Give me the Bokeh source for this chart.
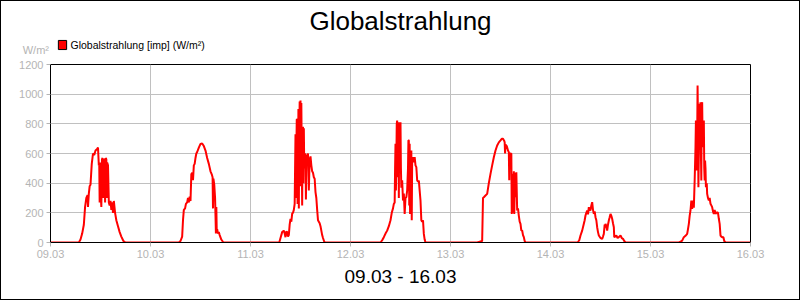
from bokeh.plotting import figure
from bokeh.layouts import column
from bokeh.models import Range1d, FixedTicker, Label, Title
from bokeh.embed import file_html
from bokeh.resources import INLINE

# ---- data: hour of day and irradiance (W/m²) ----
day_labels = ["09.03", "10.03", "11.03", "12.03", "13.03", "14.03", "15.03", "16.03"]
y_ticks = [0, 200, 400, 600, 800, 1000, 1200]
series_name = "Globalstrahlung [imp] (W/m²)"

d1_h = [0, 6.8, 7.2, 7.6, 8.0, 8.3, 8.6, 8.9, 9.0, 9.2, 9.4, 9.6, 9.9, 10.2, 10.5, 10.8, 11.2, 11.4, 11.6, 11.7, 11.8, 11.9, 12.0, 12.1, 12.2, 12.35, 12.5, 12.6, 12.7, 12.85, 13.0, 13.1, 13.25, 13.4, 13.5, 13.6, 13.8, 14.0, 14.2, 14.4, 14.6, 14.8, 15.0, 15.2, 15.5, 15.8, 16.2, 16.6, 17.0, 17.5, 18.0, 24]
d1_v = [0, 0, 20, 60, 120, 240, 300, 320, 240, 330, 380, 390, 530, 600, 590, 620, 630, 640, 520, 530, 270, 520, 540, 300, 240, 560, 570, 330, 300, 560, 560, 270, 570, 560, 300, 540, 520, 270, 250, 280, 220, 270, 200, 280, 200, 150, 110, 70, 40, 10, 0, 0]

d2_h = [0, 6.8, 7.2, 7.6, 7.8, 8.0, 8.3, 8.5, 8.8, 9.0, 9.2, 9.4, 9.6, 9.8, 10.0, 10.2, 10.4, 10.6, 10.8, 11.0, 11.2, 11.6, 12.0, 12.4, 12.8, 13.2, 13.6, 14.0, 14.4, 14.7, 14.9, 15.0, 15.1, 15.3, 15.5, 15.6, 15.7, 15.8, 15.9, 16.0, 16.2, 16.4, 16.6, 17.0, 17.5, 24]
d2_v = [0, 0, 10, 40, 150, 220, 230, 260, 270, 300, 270, 310, 280, 460, 470, 420, 520, 530, 570, 600, 610, 640, 665, 668, 650, 620, 570, 530, 480, 460, 440, 230, 430, 390, 300, 180, 60, 240, 70, 90, 60, 70, 50, 20, 0, 0]

d3_h = [0, 6.9, 7.3, 7.6, 8.0, 8.2, 8.4, 8.6, 8.8, 9.0, 9.2, 9.4, 9.6, 9.8, 10.0, 10.2, 10.4, 10.6, 10.7, 10.8, 10.9, 11.0, 11.1, 11.2, 11.3, 11.4, 11.5, 11.6, 11.7, 11.8, 11.9, 12.0, 12.1, 12.2, 12.3, 12.4, 12.5, 12.6, 12.7, 12.8, 12.9, 13.0, 13.1, 13.2, 13.3, 13.4, 13.6, 13.8, 14.0, 14.2, 14.4, 14.6, 14.8, 15.0, 15.2, 15.4, 15.6, 15.8, 16.0, 16.2, 16.4, 16.6, 16.8, 17.0, 17.2, 17.4, 17.7, 18.0, 24]
d3_v = [0, 0, 40, 70, 80, 60, 36, 75, 70, 40, 50, 120, 160, 140, 195, 200, 220, 260, 500, 730, 300, 600, 830, 830, 260, 500, 900, 230, 700, 950, 550, 957, 380, 940, 600, 250, 700, 780, 400, 770, 500, 560, 600, 590, 290, 550, 580, 600, 350, 560, 580, 520, 480, 470, 440, 430, 340, 300, 220, 150, 140, 130, 110, 80, 50, 30, 5, 0, 0]

d4_h = [0, 7.2, 7.6, 8.0, 8.4, 8.8, 9.2, 9.6, 9.9, 10.2, 10.4, 10.6, 10.7, 10.8, 10.9, 11.0, 11.1, 11.2, 11.3, 11.4, 11.5, 11.6, 11.7, 11.8, 12.0, 12.1, 12.2, 12.4, 12.6, 12.8, 13.0, 13.2, 13.4, 13.6, 13.8, 13.9, 14.0, 14.1, 14.2, 14.3, 14.5, 14.6, 14.7, 14.8, 15.0, 15.2, 15.4, 15.6, 15.8, 16.0, 16.2, 16.4, 16.6, 16.8, 17.0, 17.2, 17.4, 17.6, 17.8, 18.0, 24]
d4_v = [0, 0, 15, 36, 60, 80, 110, 150, 200, 230, 260, 270, 500, 665, 350, 550, 800, 822, 440, 600, 810, 300, 811, 700, 811, 500, 370, 420, 283, 330, 193, 300, 306, 350, 500, 690, 688, 250, 665, 193, 600, 620, 150, 560, 575, 540, 575, 520, 508, 420, 410, 418, 350, 283, 150, 140, 150, 58, 20, 0, 0]

d5_h = [0, 6.4, 7.0, 7.6, 7.8, 8.0, 8.4, 8.8, 9.2, 9.6, 10.0, 10.4, 10.8, 11.2, 11.6, 12.0, 12.3, 12.6, 12.9, 13.0, 13.1, 13.2, 13.5, 13.8, 14.0, 14.1, 14.2, 14.4, 14.6, 14.7, 14.8, 14.9, 15.0, 15.1, 15.2, 15.3, 15.5, 15.6, 15.8, 16.0, 16.2, 16.4, 16.6, 16.8, 17.0, 17.2, 17.4, 17.6, 17.8, 18.0, 24]
d5_v = [0, 0, 5, 10, 300, 305, 317, 328, 400, 463, 520, 575, 620, 654, 675, 688, 699, 699, 685, 676, 600, 660, 650, 620, 609, 420, 600, 598, 600, 193, 250, 463, 200, 350, 480, 193, 470, 305, 474, 216, 230, 180, 140, 126, 80, 81, 50, 36, 10, 0, 0]

d6_h = [0, 6.5, 6.9, 7.2, 7.6, 8.0, 8.2, 8.4, 8.6, 8.8, 9.0, 9.2, 9.4, 9.6, 9.8, 10.0, 10.2, 10.4, 10.6, 10.8, 11.0, 11.2, 11.4, 11.6, 12.0, 12.4, 12.6, 12.8, 13.0, 13.1, 13.2, 13.4, 13.6, 13.8, 14.0, 14.2, 14.4, 14.6, 14.8, 15.0, 15.2, 15.3, 15.5, 15.8, 16.1, 16.4, 16.8, 17.1, 17.4, 17.7, 18.0, 24]
d6_v = [0, 0, 15, 47, 80, 126, 150, 182, 200, 216, 190, 238, 220, 216, 250, 272, 220, 193, 210, 171, 150, 103, 70, 47, 30, 25, 40, 58, 120, 100, 126, 110, 81, 120, 148, 170, 193, 180, 160, 130, 103, 36, 40, 47, 30, 36, 47, 30, 25, 10, 0, 0]

d7_h = [0, 6.8, 7.2, 7.6, 8.0, 8.4, 8.8, 9.0, 9.2, 9.4, 9.6, 9.8, 9.9, 10.0, 10.2, 10.4, 10.6, 10.8, 10.9, 11.0, 11.1, 11.2, 11.3, 11.4, 11.5, 11.6, 11.7, 11.8, 11.9, 12.0, 12.1, 12.2, 12.3, 12.4, 12.5, 12.6, 12.7, 12.8, 12.9, 13.0, 13.1, 13.2, 13.3, 13.5, 13.6, 13.8, 14.0, 14.2, 14.4, 14.6, 14.8, 15.0, 15.2, 15.4, 15.6, 15.8, 16.0, 16.2, 16.4, 16.6, 16.8, 17.0, 17.2, 17.5, 17.7, 18.0, 24]
d7_v = [0, 0, 5, 13, 36, 45, 58, 90, 126, 180, 216, 283, 240, 227, 283, 235, 418, 643, 822, 600, 485, 700, 1058, 800, 373, 600, 935, 700, 643, 946, 600, 418, 900, 946, 700, 643, 800, 822, 500, 418, 553, 500, 373, 400, 328, 300, 283, 300, 261, 250, 238, 210, 193, 220, 193, 200, 204, 200, 160, 126, 47, 40, 36, 35, 10, 0, 0]

days_h = [d1_h, d2_h, d3_h, d4_h, d5_h, d6_h, d7_h]
days_v = [d1_v, d2_v, d3_v, d4_v, d5_v, d6_v, d7_v]

xs, ys = [], []
for i, (hh, vv) in enumerate(zip(days_h, days_v)):
    for h, v in zip(hh, vv):
        xs.append(i + h / 24.0)
        ys.append(v)

FONT = "Liberation Sans"
GRAY = "#b4b4b4"
W = 798
TOP_H = 54

# ---- header strip: title, unit, legend (pixel coordinates of the strip) ----
top = figure(width=W, height=TOP_H, output_backend="svg", toolbar_location=None,
             x_range=Range1d(0, W), y_range=Range1d(0, TOP_H), min_border=0)
if "frame_align" in top.properties():
    top.frame_align = False
top.axis.visible = False
top.grid.visible = False
top.outline_line_color = None
top.border_fill_color = "white"

top.add_layout(Label(x=W / 2, y=35, text="Globalstrahlung", text_font=FONT,
                     text_font_size="26px", text_align="center", text_baseline="middle",
                     text_color="black"))
top.add_layout(Label(x=47.5, y=6, text="W/m²", text_font=FONT, text_font_size="11px",
                     text_align="right", text_baseline="middle", text_color=GRAY))
# legend: swatch + series name
top.add_layout(Label(x=61, y=10.5, text=" ", text_font=FONT, text_font_size="1px",
                     text_align="center", text_baseline="middle",
                     background_fill_color="#ff0000", border_line_color="black",
                     border_line_width=1, padding=4))
top.add_layout(Label(x=69, y=11, text=series_name, text_font=FONT, text_font_size="10.5px",
                     text_align="left", text_baseline="middle", text_color="black"))

# ---- main chart ----
p = figure(width=W, height=300 - 2 - TOP_H, output_backend="svg", toolbar_location=None,
           x_range=Range1d(0, 7), y_range=Range1d(0, 1200),
           min_border_left=49, min_border_right=49, min_border_top=9, min_border_bottom=57)
p.outline_line_color = "black"
p.outline_line_width = 1
p.background_fill_color = "white"
p.border_fill_color = "white"

p.line(xs, ys, line_color="#ff0000", line_width=2)

for ax in (p.xaxis[0], p.yaxis[0]):
    ax.axis_line_color = "black"
    ax.major_tick_line_color = GRAY
    ax.major_tick_in = 0
    ax.major_tick_out = 4
    ax.minor_tick_line_color = None
    ax.major_label_text_color = GRAY
    ax.major_label_text_font = FONT
    ax.major_label_text_font_size = "11px"
p.xaxis[0].ticker = FixedTicker(ticks=list(range(len(day_labels))))
p.xaxis[0].major_label_overrides = {i: s for i, s in enumerate(day_labels)}
p.yaxis[0].ticker = FixedTicker(ticks=y_ticks)
p.xaxis[0].major_label_standoff = 3
p.yaxis[0].major_label_standoff = 3

p.xgrid.ticker = FixedTicker(ticks=list(range(len(day_labels))))
p.ygrid.ticker = FixedTicker(ticks=y_ticks)
p.grid.grid_line_color = "#c0c0c0"
p.grid.grid_line_width = 1

p.add_layout(Title(text="09.03 - 16.03", align="center", text_font=FONT,
                   text_font_size="19px", text_font_style="normal", text_color="black",
                   standoff=7), "below")

layout = column(top, p, spacing=0, styles={"border": "1px solid black"})

out = file_html(layout, INLINE)
open("out.html", "w").write(out)
